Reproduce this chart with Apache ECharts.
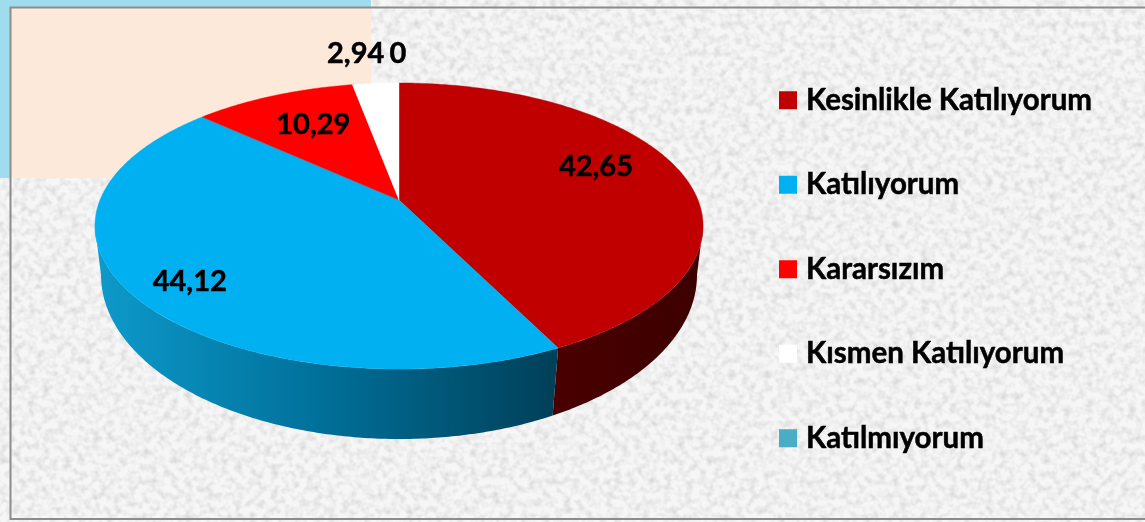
<!DOCTYPE html>
<html>
<head>
<meta charset="utf-8">
<style>
html,body{margin:0;padding:0;width:1145px;height:522px;overflow:hidden;background:#efefef}
#tex{position:absolute;left:0;top:0;width:1145px;height:522px}
#chart{position:absolute;left:0;top:0;width:1145px;height:522px}
</style>
<script src="https://cdn.jsdelivr.net/npm/echarts@6/dist/echarts.min.js"></script>
</head>
<body>
<svg id="tex" xmlns="http://www.w3.org/2000/svg">
  <filter id="granite" x="0" y="0" width="100%" height="100%">
    <feTurbulence type="fractalNoise" baseFrequency="0.14" numOctaves="2" seed="7"/>
    <feColorMatrix type="matrix" values="0 0 0 0 0  0 0 0 0 0  0 0 0 0 0  1.6 0 0 0 -0.62"/>
    <feComponentTransfer><feFuncA type="linear" slope="0.32"/></feComponentTransfer>
    <feGaussianBlur stdDeviation="0.7"/>
    <feComposite in2="SourceGraphic" operator="over"/>
  </filter>
  <rect width="1145" height="522" fill="#f6f6f6" filter="url(#granite)"/>
</svg>
<div id="chart"></div>
<script>
// ---- data ----
const categories = ['Kesinlikle Katılıyorum', 'Katılıyorum', 'Kararsızım', 'Kısmen Katılıyorum', 'Katılmıyorum'];
const values = [42.65, 44.12, 10.29, 2.94, 0];

// ---- styles ----
const topColors = ['#C00000', '#00B0F0', '#FF0000', '#FFFFFF', '#4BACC6'];
const sideColors = [
  [[0, '#4a0000'], [1, '#3c0000']],
  [[0, '#0d9acb'], [0.5, '#006f98'], [1, '#003f58']],
  [[0, '#800000'], [1, '#800000']],
  [[0, '#808080'], [1, '#808080']],
  [[0, '#26566a'], [1, '#26566a']]
];
// label placement: [radius fraction, dx, dy] relative to slice's mid angle
const labelPlacement = [[0.7, -1, -12], [0.8, 0, 9], [0.65, 0, -4], [1, -20, -30], [1, -1, -29]];

// ---- projection of the tilted disc ----
const CX = 399, APEX_Y = 200, A = 299, B = 138.3, K = 0.1818;
const LOW_A = 293.9, LOW_B = 159.5, LOW_Y = 248, LOW_K = 0.165;
const total = values.reduce((a, b) => a + b, 0);
const starts = values.map((_, i) => values.slice(0, i).reduce((a, b) => a + b, 0) / total * Math.PI * 2);

function topPoint(t, r) {
  const s = 1 / (1 + K * r * Math.cos(t));
  return [CX + A * r * Math.sin(t) * s, APEX_Y - B * r * Math.cos(t) * s];
}
function lowPoint(t) {
  const s = 1 / (1 + LOW_K * Math.cos(t));
  return [CX + LOW_A * Math.sin(t) * s, LOW_Y - LOW_B * Math.cos(t) * s];
}
function arc(fn, a, b) {
  const n = Math.max(2, Math.ceil(Math.abs(b - a) / 0.01));
  const pts = [];
  for (let i = 0; i <= n; i++) pts.push(fn(a + (b - a) * i / n));
  return pts;
}
// silhouette angles: where each rim reaches its widest point
const TOP_EDGE = Math.acos(-K), LOW_EDGE = Math.acos(-LOW_K), TWO_PI = Math.PI * 2;

const makeRender = idx => (params, api) => {
  const v = api.value(0);
  const a = starts[idx], b = a + v / total * TWO_PI;
  const children = [];
  const ta = Math.max(a, TOP_EDGE), tb = Math.min(b, TWO_PI - TOP_EDGE);
  const la = Math.max(a, LOW_EDGE), lb = Math.min(b, TWO_PI - LOW_EDGE);
  if (tb > ta) {
    const pts = arc(t => topPoint(t, 1), ta, tb).concat(arc(lowPoint, lb, la));
    const xs = pts.map(p => p[0]);
    const grad = {
      type: 'linear', global: true,
      x: Math.min.apply(null, xs), y: 0, x2: Math.max.apply(null, xs), y2: 0,
      colorStops: sideColors[idx].map(s => ({ offset: s[0], color: s[1] }))
    };
    children.push({ type: 'polygon', shape: { points: pts }, style: { fill: grad }, z2: 1 });
  }
  if (v > 0) {
    const pts = [[CX, APEX_Y]].concat(arc(t => topPoint(t, 1), a, b));
    children.push({ type: 'polygon', shape: { points: pts }, style: { fill: topColors[idx], stroke: topColors[idx], lineWidth: 0.4 }, z2: 2 });
  }
  const lp = labelPlacement[idx];
  const m = topPoint((a + b) / 2, lp[0]);
  children.push({
    type: 'text', z2: 100,
    style: {
      x: m[0] + lp[1], y: m[1] + lp[2],
      text: String(v).replace('.', ','),
      fill: '#000', align: 'center', verticalAlign: 'middle',
      font: 'bold 29px Lato', stroke: '#000', lineWidth: 0.5
    }
  });
  return { type: 'group', children };
};

const chart = echarts.init(document.getElementById('chart'), null, { renderer: 'canvas', width: 1145, height: 522 });
chart.setOption({
  animation: false,
  backgroundColor: 'transparent',
  graphic: [
    { type: 'rect', z: -10, shape: { x: 0, y: 0, width: 371, height: 178 }, style: { fill: '#9fdcee' } },
    { type: 'rect', z: -9, shape: { x: 11, y: 8, width: 360, height: 170 }, style: { fill: '#FDE9D9' } },
    { type: 'polyline', z: -8, shape: { points: [[1145, 7.5], [10.5, 7.5], [10.5, 519], [1145, 519]] }, style: { fill: 'none', stroke: '#8c8c8c', lineWidth: 2 } }
  ],
  legend: {
    orient: 'vertical', left: 779, top: 85, padding: 0,
    itemWidth: 18, itemHeight: 18, itemGap: 54, icon: 'rect', selectedMode: false,
    textStyle: { fontFamily: 'Lato', fontWeight: 'bold', fontSize: 29.5, color: '#000', padding: [0, 0, 0, 4], textBorderColor: '#000', textBorderWidth: 0.5 },
    data: categories.map((name, i) => ({ name, itemStyle: { color: topColors[i] } }))
  },
  series: categories.map((name, i) => ({
    type: 'custom', name, coordinateSystem: 'none', silent: true,
    itemStyle: { color: topColors[i] },
    renderItem: makeRender(i),
    data: [[values[i]]]
  }))
});
</script>
</body>
</html>
